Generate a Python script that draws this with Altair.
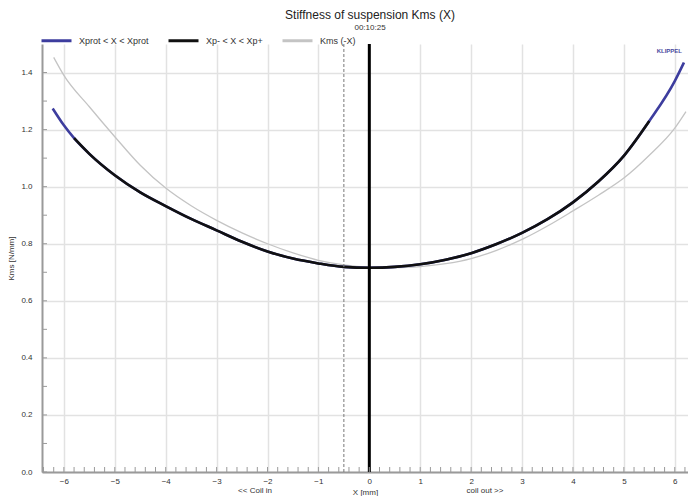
import altair as alt
import pandas as pd

FONT = "Liberation Sans"

# Kms(X) curve (blue over full range, black inside Xp- .. Xp+)
K_X = [-6.22, -6.0, -5.8, -5.5, -5.0, -4.5, -4.0, -3.5, -3.0, -2.5, -2.0, -1.5, -1.0, -0.5,
       0.0, 0.5, 1.0, 1.5, 2.0, 2.5, 3.0, 3.5, 4.0, 4.5, 5.0, 5.5, 6.0, 6.18]
K_Y = [1.274, 1.215, 1.17, 1.115, 1.04, 0.98, 0.932, 0.887, 0.847, 0.807, 0.773, 0.748, 0.731, 0.719,
       0.716, 0.719, 0.728, 0.744, 0.767, 0.799, 0.838, 0.886, 0.945, 1.018, 1.108, 1.23, 1.37, 1.435]
XP_MIN, XP_MAX = -5.8, 5.5

# Kms(-X) curve (thin gray)
G_X = [-6.2, -6.0, -5.5, -5.0, -4.5, -4.0, -3.5, -3.0, -2.5, -2.0, -1.5, -1.0, -0.5, 0.0,
       0.5, 1.0, 1.5, 2.0, 2.5, 3.0, 3.5, 4.0, 4.5, 5.0, 5.5, 6.0, 6.22]
G_Y = [1.453, 1.39, 1.28, 1.175, 1.075, 0.995, 0.933, 0.882, 0.838, 0.8, 0.768, 0.742, 0.726, 0.718,
       0.716, 0.72, 0.73, 0.748, 0.777, 0.815, 0.862, 0.915, 0.97, 1.03, 1.11, 1.205, 1.263]

REST_X = [0.0]
MIN_X = [-0.5]

SERIES = ["Xprot < X < Xprot", "Xp- < X < Xp+", "Kms (-X)"]
COLORS = ["#3d3d9e", "#111111", "#c4c4c4"]

TITLE = "Stiffness of suspension Kms (X)"
SUBTITLE = "00:10:25"

X_LABELS = list(range(-6, 7))
Y_LABELS = [0.0, 0.2, 0.4, 0.6, 0.8, 1.0, 1.2, 1.4]
X_MINOR = [round(v / 10, 1) for v in range(-64, 63, 2)]
Y_MINOR = [round(v / 10, 1) for v in range(0, 15)]

k_df = pd.DataFrame({"x": K_X, "y": K_Y})
blue_df = k_df.assign(series=SERIES[0])
black_df = k_df[(k_df.x >= XP_MIN) & (k_df.x <= XP_MAX)].assign(series=SERIES[1])
gray_df = pd.DataFrame({"x": G_X, "y": G_Y, "series": SERIES[2]})

W, H = 646, 428

xs = alt.Scale(domain=[-6.43, 6.26], nice=False, zero=False)
ys = alt.Scale(domain=[0, 1.5], nice=False, zero=False)

xaxis = alt.Axis(values=X_LABELS, format="d", tickSize=0, labelPadding=5, grid=True,
                 gridColor="#e2e2e2", gridWidth=1.5, domainColor="#9a9a9a", domainWidth=2,
                 labelFontSize=8, labelColor="#333", titleFontSize=8, titleFontWeight="normal",
                 titleColor="#333", titlePadding=3, labelFont=FONT, titleFont=FONT)
yaxis = alt.Axis(values=Y_LABELS, format=".1f", tickSize=0, labelPadding=10, grid=True,
                 gridColor="#e2e2e2", gridWidth=1.5, domainColor="#9a9a9a", domainWidth=2,
                 labelFontSize=8, labelColor="#333", titleFontSize=8, titleFontWeight="normal",
                 titleColor="#333", titlePadding=5, labelFont=FONT, titleFont=FONT)

def X(field="x"):
    return alt.X(f"{field}:Q", scale=xs, axis=xaxis, title="X [mm]")

def Y(field="y"):
    return alt.Y(f"{field}:Q", scale=ys, axis=yaxis, title="Kms [N/mm]")

legend = alt.Legend(orient="none", legendX=-2, legendY=-20, direction="horizontal", title=None,
                    symbolType="stroke", symbolSize=900, symbolStrokeWidth=3,
                    labelFontSize=9, labelFont=FONT, labelColor="#333", columnPadding=13,
                    labelOffset=6)
color = alt.Color("series:N", scale=alt.Scale(domain=SERIES, range=COLORS), legend=legend)

def line(df, w):
    return alt.Chart(df).mark_line(interpolate="monotone", strokeWidth=w).encode(
        x=X(), y=Y(), color=color)

gray = line(gray_df, 1.3)
blue = line(blue_df, 2.6)
black = line(black_df, 2.6)

xticks = alt.Chart(pd.DataFrame({"x": X_MINOR})).mark_rule(color="#9a9a9a", strokeWidth=1).encode(
    x=X(), y=alt.value(H), y2=alt.value(H - 5))
yticks = alt.Chart(pd.DataFrame({"y": Y_MINOR})).mark_rule(color="#9a9a9a", strokeWidth=1).encode(
    y=Y(), x=alt.value(0), x2=alt.value(5))

rest = alt.Chart(pd.DataFrame({"x": REST_X})).mark_rule(color="#000000", strokeWidth=3).encode(x=X())
minline = alt.Chart(pd.DataFrame({"x": MIN_X})).mark_rule(
    color="#777777", strokeWidth=1, strokeDash=[3, 2]).encode(x=X())

klippel = alt.Chart(pd.DataFrame({"t": ["KLIPPEL"]})).mark_text(
    fontSize=6, color="#4a4aa0", align="right", font=FONT, fontWeight="bold").encode(
    text="t:N", x=alt.value(W - 6), y=alt.value(7))

sides = alt.Chart(pd.DataFrame({"t": ["<< Coil in", "coil out >>"], "px": [213, 443]})).mark_text(
    fontSize=8, color="#333", font=FONT, baseline="top").encode(
    text="t:N", x=alt.X("px:Q", scale=None), y=alt.value(H + 15))

title = alt.Chart(pd.DataFrame({"t": [TITLE]})).mark_text(
    fontSize=12, color="#222", font=FONT, align="center", baseline="middle").encode(
    text="t:N", x=alt.value(328), y=alt.value(-29))
subtitle = alt.Chart(pd.DataFrame({"t": [SUBTITLE]})).mark_text(
    fontSize=8, color="#333", font=FONT, align="center", baseline="middle").encode(
    text="t:N", x=alt.value(328), y=alt.value(-16))

chart = alt.layer(gray, blue, black, minline, rest, xticks, yticks, klippel, sides,
                  title, subtitle).properties(
    width=W, height=H,
    autosize=alt.AutoSizeParams(type="none"),
    padding={"left": 34, "top": 36, "right": 0, "bottom": 24},
).configure_view(stroke=None)

chart.save("out.html", embed_options={"renderer": "svg", "actions": False})
